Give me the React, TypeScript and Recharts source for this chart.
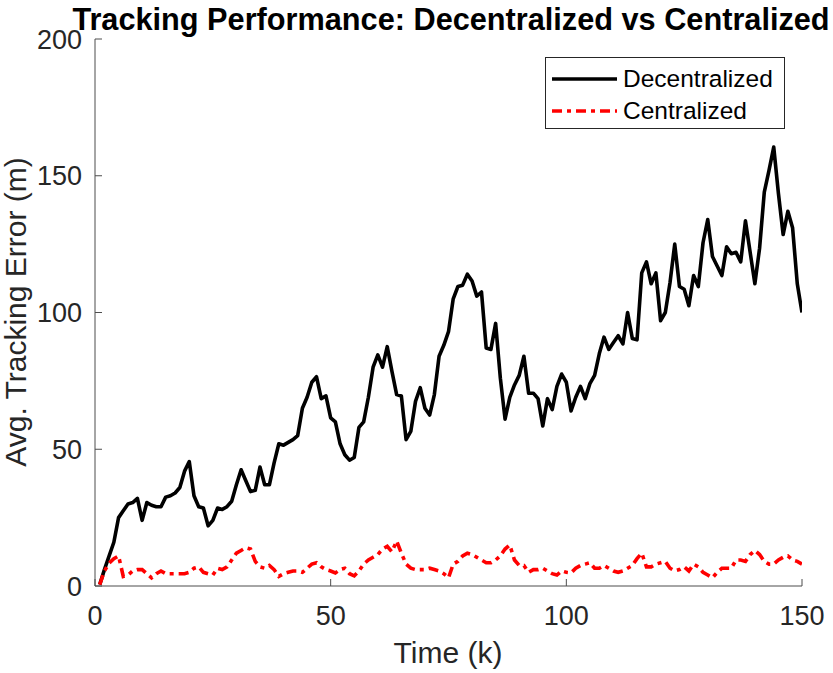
import { LineChart, Line, XAxis, YAxis, Legend } from "recharts";

// avg tracking error per time step k = 1..150
const decentralizedError = [
  0.5, 6, 11, 16, 25, 27.5, 30, 30.5, 32, 24,
  30.5, 29.5, 29, 29, 32.5, 33, 34, 36, 42, 45.5,
  33, 29, 28.5, 22, 24, 28.5, 28, 29, 31, 37,
  42.5, 38.5, 34.5, 35, 43.5, 37, 37, 45, 52, 51.5,
  52.5, 53.5, 55, 65, 69, 74.5, 76.5, 68.5, 69.5, 61.5,
  60, 52, 48, 46, 47, 58, 60, 69, 80, 84.5,
  80, 87.5, 78.5, 70, 69.5, 53.5, 56.5, 67.5, 72.5, 65,
  62.5, 70, 84, 88, 93, 105, 109.5, 110, 114, 111.5,
  106, 107.5, 87, 86.5, 96, 76, 61, 69, 73.5, 77,
  84, 70.5, 70.5, 68.5, 58.5, 68.5, 64.5, 73, 77.5, 74.5,
  64, 69, 73, 68.5, 74, 77, 85, 91, 86.5, 89,
  91.5, 88.5, 100, 90.5, 90, 114.5, 118.5, 110.5, 114.5, 97,
  100, 111, 125, 109.5, 108.5, 102.5, 113.5, 109.5, 125.5, 134,
  120.5, 117, 113.5, 124, 121.5, 122, 118.5, 133.5, 122, 110.5,
  123.5, 144, 152, 160.5, 143.5, 128.5, 137, 131, 110.5, 100,
];

const centralizedError = [
  0.5, 5.5, 8.4, 10, 11, 3.5, 4, 5.5, 6, 6,
  4.5, 3, 4.5, 5.5, 4.5, 4.5, 4.5, 4.5, 4.5, 5,
  6.5, 7, 5, 4.5, 4, 6.5, 6, 7, 9.5, 12,
  13, 14, 13.5, 9, 7, 6.5, 7.5, 6, 3.5, 4.5,
  5, 5.5, 5.5, 5, 6.5, 8, 8.5, 7, 6, 5.5,
  4.8, 6, 6.5, 4.5, 3.7, 5.5, 8, 9.5, 10.5, 11.5,
  13.5, 14.5, 12.5, 16.5, 12, 8, 6.5, 6, 6, 6,
  6.5, 6, 5.5, 4.5, 3, 8, 9, 11, 12, 11.5,
  10.5, 9.5, 8.5, 8.5, 9.5, 11, 13.5, 15, 9.5, 7.5,
  7.5, 5, 6, 6, 6.5, 5.5, 4.5, 4, 5.5, 5,
  4.8, 6.5, 7.5, 8, 8.5, 6.5, 6.5, 7.5, 6.5, 5.5,
  5, 5.5, 6.5, 7.5, 10, 12, 7, 7, 8, 8.5,
  9, 6.5, 5.5, 6, 7, 5.5, 8, 7, 5, 4,
  3, 5, 6.5, 6.5, 6.5, 9.5, 9.5, 9, 11.5, 13,
  11.5, 9, 8, 8, 9.5, 10.5, 11, 9.5, 9, 8,
];

const xTicks = [0, 50, 100, 150];
const yTicks = [0, 50, 100, 150, 200];

const data = decentralizedError.map((v, i) => ({
  k: i + 1,
  decentralized: v,
  centralized: centralizedError[i],
}));

const FONT = "'Liberation Sans', Arial, Helvetica, sans-serif";
const TEXT = "#262626";
const AXIS = "#4d4d4d";
const LINE_W = 3.6;
const RED_DASH = "10 5 4 5";

// legend rows in the order the reference lists them
const legendOrder = ["decentralized", "centralized"];
const seriesStyle: Record<string, { color: string; dash?: string }> = {
  decentralized: { color: "#000000" },
  centralized: { color: "#ff0000", dash: RED_DASH },
};

function LegendBox(props: any) {
  const items = [...(props.payload || [])].sort(
    (a: any, b: any) => legendOrder.indexOf(a.dataKey) - legendOrder.indexOf(b.dataKey)
  );
  return (
    <div
      style={{
        width: 240,
        height: 72,
        border: "1px solid #262626",
        background: "#fff",
        paddingTop: 5,
        boxSizing: "border-box",
        fontFamily: FONT,
        fontSize: 24.5,
        color: "#000",
      }}
    >
      {items.map((entry: any) => {
        const st = seriesStyle[entry.dataKey] || { color: entry.color };
        return (
          <div key={entry.value} style={{ display: "flex", alignItems: "center", height: 32 }}>
            <svg width={74} height={10} style={{ flex: "none" }}>
              <line x1={6} x2={71} y1={5} y2={5} stroke={st.color} strokeWidth={LINE_W} strokeDasharray={st.dash} />
            </svg>
            <span style={{ marginLeft: 3, lineHeight: 1 }}>{entry.value}</span>
          </div>
        );
      })}
    </div>
  );
}

export default function App() {
  const tickStyle = { fontSize: 27, fill: TEXT, fontFamily: FONT };

  return (
    <div style={{ position: "absolute", left: 0, top: 0, width: 833, height: 673, background: "#fff", fontFamily: FONT }}>
      <LineChart width={833} height={673} data={data} margin={{ top: 39, right: 31, bottom: 27, left: 15 }}>
        <XAxis
          dataKey="k"
          type="number"
          domain={[0, 150]}
          ticks={xTicks}
          height={60}
          tick={tickStyle}
          tickSize={-7}
          tickMargin={27}
          stroke={AXIS}
          allowDataOverflow
        />
        <XAxis
          xAxisId="top"
          orientation="top"
          type="number"
          domain={[0, 150]}
          ticks={xTicks}
          height={0}
          tick={false}
          tickSize={-7}
          stroke={AXIS}
        />
        <YAxis
          type="number"
          domain={[0, 200]}
          ticks={yTicks}
          width={80}
          tick={tickStyle}
          tickSize={-7}
          tickMargin={20}
          stroke={AXIS}
          allowDataOverflow
        />
        <YAxis
          yAxisId="right"
          orientation="right"
          type="number"
          domain={[0, 200]}
          ticks={yTicks}
          width={0}
          tick={false}
          tickSize={-7}
          stroke={AXIS}
        />
        <Legend
          layout="vertical"
          align="center"
          verticalAlign="middle"
          content={LegendBox}
          wrapperStyle={{ left: 545, top: 57, width: 240, height: 72 }}
        />
        <Line
          type="linear"
          dataKey="decentralized"
          name="Decentralized"
          stroke="#000000"
          strokeWidth={LINE_W}
          strokeLinejoin="round"
          dot={false}
          isAnimationActive={false}
        />
        <Line
          type="linear"
          dataKey="centralized"
          name="Centralized"
          stroke="#ff0000"
          strokeWidth={LINE_W}
          strokeDasharray={RED_DASH}
          dot={false}
          isAnimationActive={false}
        />
      </LineChart>

      <div
        style={{
          position: "absolute",
          left: 451,
          top: 20,
          transform: "translate(-50%, -50%)",
          whiteSpace: "nowrap",
          fontSize: 30.7,
          fontWeight: "bold",
          lineHeight: 1,
          color: "#000",
        }}
      >
        Tracking Performance: Decentralized vs Centralized
      </div>
      <div
        style={{
          position: "absolute",
          left: 448,
          top: 653,
          transform: "translate(-50%, -50%)",
          whiteSpace: "nowrap",
          fontSize: 30,
          lineHeight: 1,
          color: TEXT,
        }}
      >
        Time (k)
      </div>
      <div
        style={{
          position: "absolute",
          left: 16,
          top: 312,
          transform: "translate(-50%, -50%) rotate(-90deg)",
          whiteSpace: "nowrap",
          fontSize: 30,
          lineHeight: 1,
          color: TEXT,
        }}
      >
        Avg. Tracking Error (m)
      </div>
    </div>
  );
}
